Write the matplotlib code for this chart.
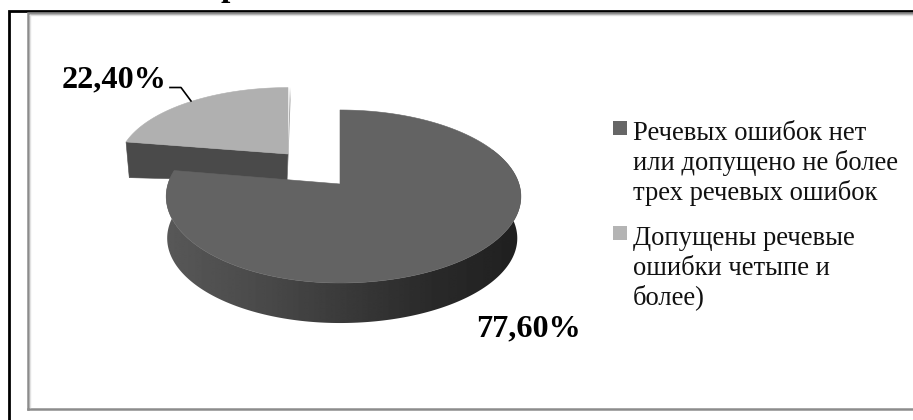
import numpy as np
import matplotlib
matplotlib.use("Agg")
import matplotlib.pyplot as plt
from matplotlib.patches import Polygon, Rectangle

values = [77.60, 22.40]
value_labels = ["77,60%", "22,40%"]
legend_lines = [["Речевых ошибок нет", "или допущено не более", "трех речевых ошибок"],
                ["Допущены речевые", "ошибки четыпе и", "более)"]]
top_colors = ["#636363", "#b0b0b0"]
legend_colors = ["#666666", "#b4b4b4"]

W, H = 913, 420
plt.rcParams['font.family'] = ['Liberation Serif', 'DejaVu Serif']
fig = plt.figure(figsize=(W/100, H/100), dpi=100, facecolor="white")
ax = fig.add_axes([0, 0, 1, 1])
ax.axis("off")

K = -0.1445
def project(theta, ax0, ay0, rxl, rxr, ry, scale=1.0, dz=0.0):
    t = np.radians(theta)
    u, v = np.sin(t), np.cos(t)
    d = 1 - K*v
    rx = np.where(u < 0, rxl, rxr)
    return ax0 + scale*rx*u/d, ay0 + dz - scale*ry*v/d

# frame
ax.plot([9, 9, W], [H, 10.5, 10.5], color="black", lw=2.0, solid_joinstyle="miter", zorder=1)
ax.plot([28, 28, W], [409, 12.8, 12.8], color="#8c8c8c", lw=1.8, solid_joinstyle="miter", zorder=1)
ax.plot([28, W], [409, 409], color="#8c8c8c", lw=1.8, zorder=1)
ax.plot([30, 30], [15, 407], color="#e2e2e2", lw=1, zorder=1)
ax.plot([30, W], [14.8, 14.8], color="#dddddd", lw=1, zorder=1)

# clipped heading fragment
ax.text(229.5, -4, "р", fontsize=24, fontweight="bold", ha="center", va="baseline",
        color="black", zorder=6, clip_on=False)

ends = np.cumsum(values) / sum(values) * 360
main_end = ends[0]

# small slice
sl = dict(ax0=288, ay0=154, rxl=168, rxr=168, ry=76)
ths = np.linspace(main_end, 360, 120)
xt, yt = project(ths, **sl)
xa, ya = project(main_end, **sl)
xb, yb = project(main_end, **sl, scale=.98, dz=35.5)
wall = [(float(xa), float(ya)), (288, 154), (287, 181.5), (float(xb), float(yb))]
ax.add_patch(Polygon(wall, closed=True, fc="#4a4a4a", ec="#4a4a4a", lw=.4, zorder=2))
ax.add_patch(Polygon([(288, 154), (290, 87), (290.5, 100), (287.5, 181)], closed=True, fc="#9a9a9a", ec="none", zorder=2))
ax.add_patch(Polygon(np.r_[[[288, 154]], np.c_[xt, yt]], closed=True, fc=top_colors[1], ec=top_colors[1], lw=.4, zorder=3))

# main slice: wall as one gradient image clipped to the front side outline
mn = dict(ax0=340, ay0=184, rxl=172, rxr=179, ry=84.7)
mn_low = dict(ax0=340, ay0=184, rxl=174.5, rxr=179, ry=84.7)
grad_x = np.linspace(160, 525, 366)
grad_g = np.interp(grad_x, [166, 260, 345, 430, 500, 521], [0x58, 0x4a, 0x3a, 0x2a, 0x22, 0x20]) / 255
th = np.linspace(0, main_end, 400)
x1, y1 = project(th, **mn)
front = np.linspace(60, main_end, 300)
fx1, fy1 = project(front, **mn)
fx2, fy2 = project(front, **mn_low, scale=.98, dz=42)
im = ax.imshow(grad_g[None, :], cmap="gray", vmin=0, vmax=1, extent=(160, 525, 330, 150),
               aspect="auto", interpolation="bilinear", zorder=4)
side = Polygon(np.r_[np.c_[fx1, fy1], np.c_[fx2, fy2][::-1]], closed=True, transform=ax.transData, fc="none", ec="none")
ax.add_patch(side)
im.set_clip_path(side)
ax.add_patch(Polygon(np.r_[[[340, 184]], np.c_[x1, y1]], closed=True, fc=top_colors[0], ec=top_colors[0], lw=.4, zorder=5))
ax.set_xlim(0, W); ax.set_ylim(H, 0)

# value labels and leader
ax.text(528, 336, value_labels[0], fontsize=23.2, fontweight="bold", ha="center", va="baseline", color="black", zorder=7)
ax.text(114, 87.5, value_labels[1], fontsize=23.2, fontweight="bold", ha="center", va="baseline", color="black", zorder=7)
ax.plot([170, 181, 191], [87.5, 87.5, 101], color="black", lw=1.2, zorder=7)

# legend
baselines = [[140, 170, 200], [245, 275, 304]]
boxes = [121, 226]
for lines, ys, box, c in zip(legend_lines, baselines, boxes, legend_colors):
    ax.add_patch(Rectangle((613, box), 14, 14, fc=c, ec="none", zorder=7))
    for s, y in zip(lines, ys):
        ax.text(633, y, s, fontsize=19.2, ha="left", va="baseline", color="#111111", zorder=7)

fig.savefig("out.png", dpi=100, facecolor="white")
